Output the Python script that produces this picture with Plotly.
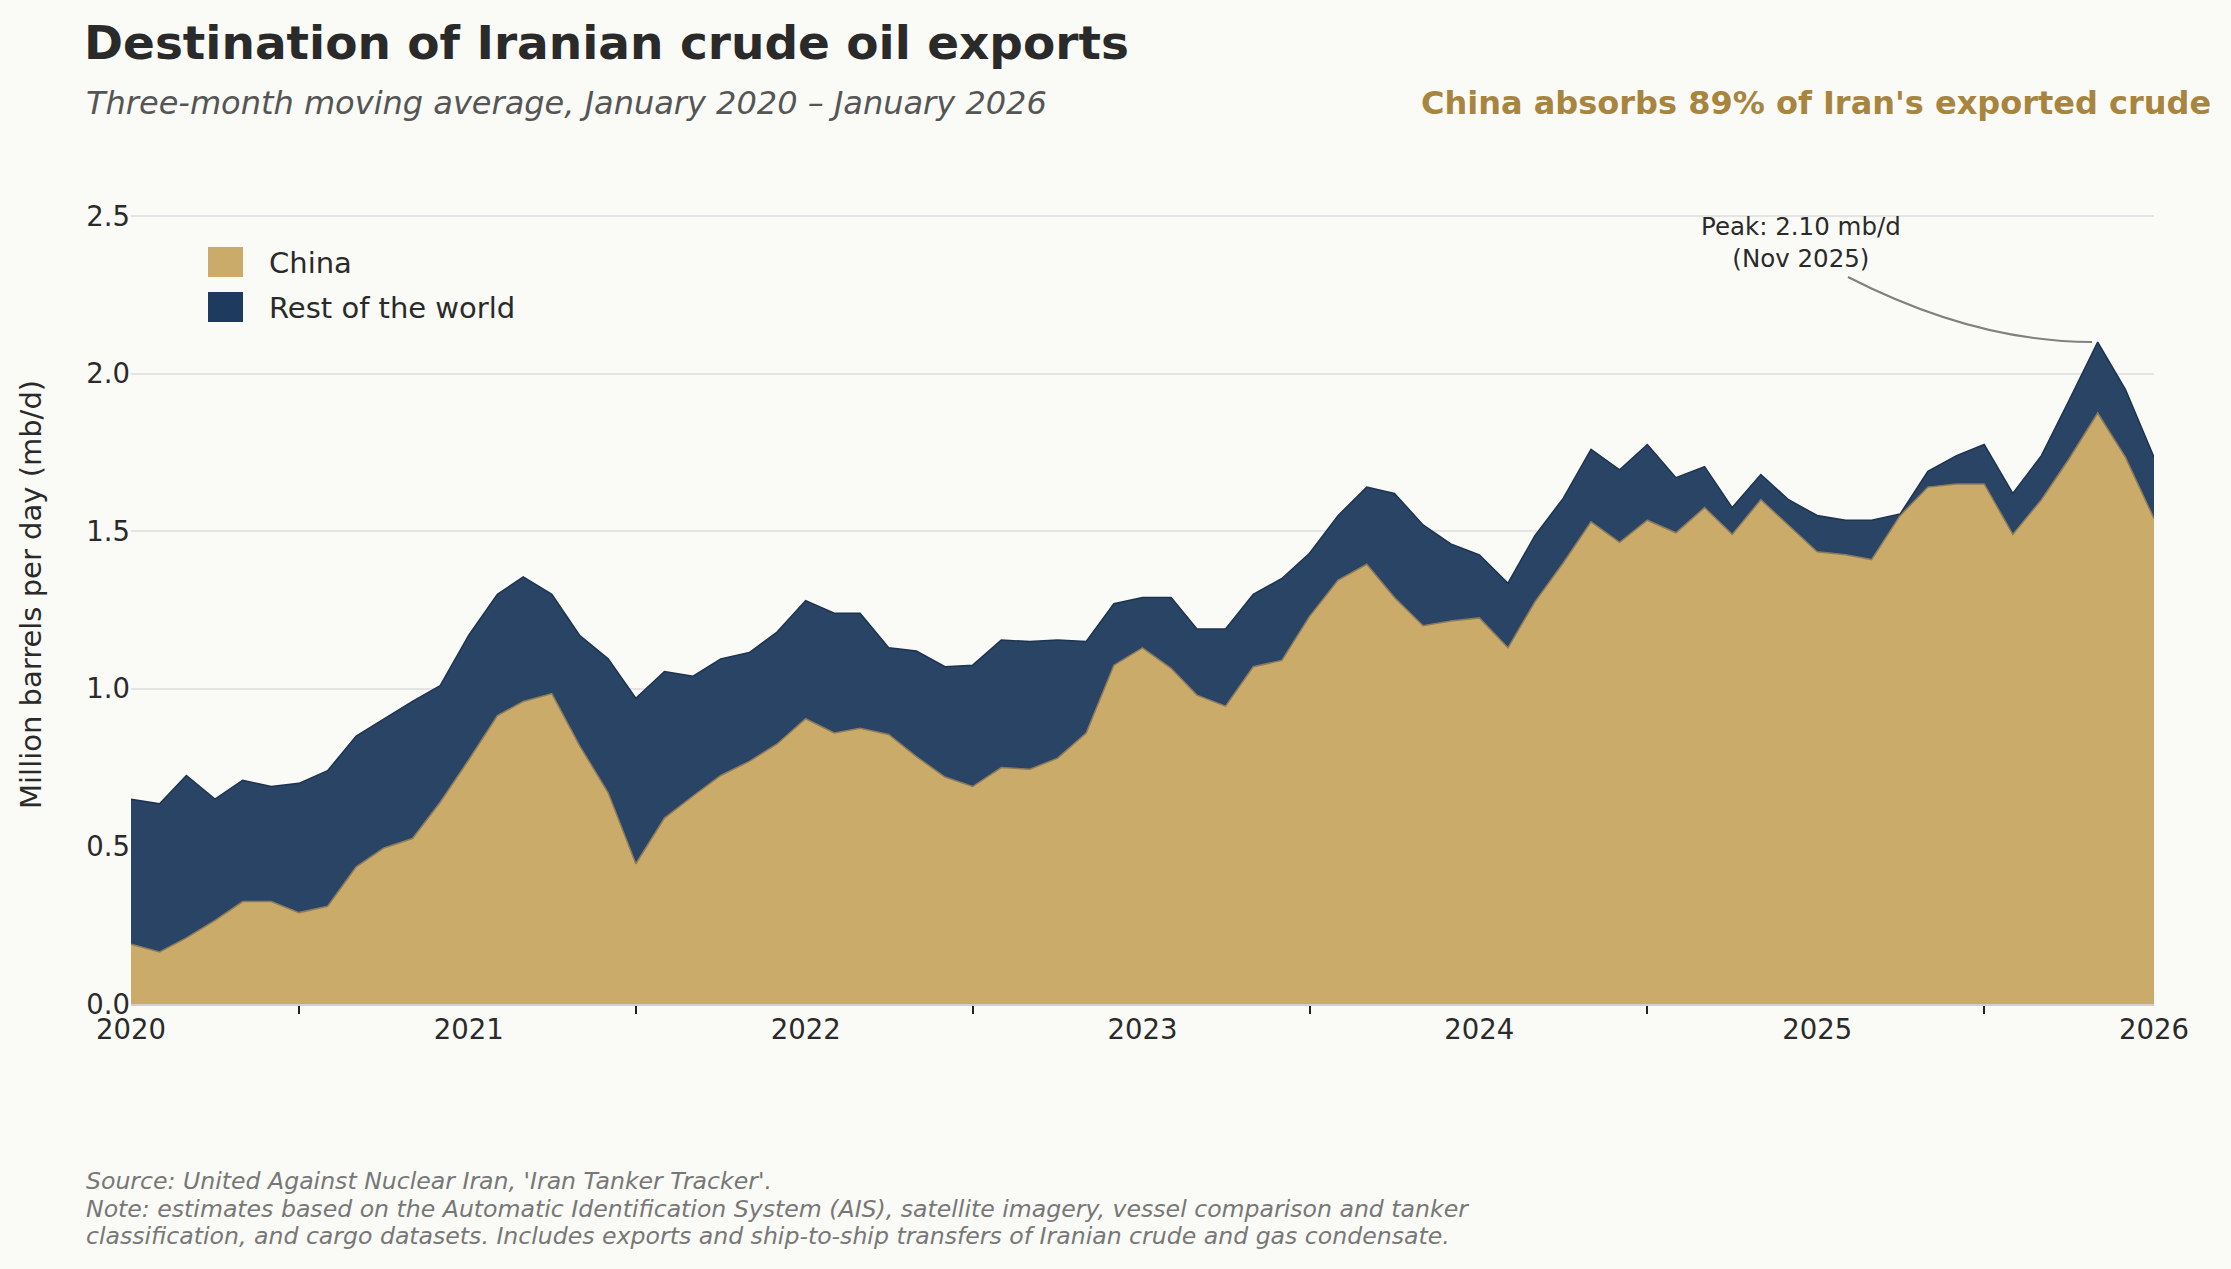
import plotly.graph_objects as go
import pandas as pd

months = pd.date_range("2020-01-01", "2026-01-01", freq="MS")

china = [
    0.19, 0.165, 0.21, 0.265, 0.325, 0.325, 0.29, 0.31, 0.435, 0.495, 0.525, 0.64,
    0.775, 0.915, 0.96, 0.985, 0.82, 0.67, 0.445, 0.59, 0.66, 0.725, 0.77, 0.825,
    0.905, 0.86, 0.875, 0.855, 0.785, 0.72, 0.69, 0.75, 0.745, 0.78, 0.86, 1.075,
    1.13, 1.065, 0.98, 0.945, 1.07, 1.09, 1.23, 1.345, 1.395, 1.29, 1.20, 1.215,
    1.225, 1.13, 1.275, 1.40, 1.53, 1.465, 1.535, 1.495, 1.575, 1.49, 1.60, 1.52,
    1.435, 1.425, 1.41, 1.55, 1.64, 1.65, 1.65, 1.49, 1.60, 1.73, 1.875, 1.735,
    1.54,
]
rest_of_world = [
    0.46, 0.47, 0.515, 0.385, 0.385, 0.365, 0.41, 0.43, 0.415, 0.41, 0.435, 0.37,
    0.395, 0.385, 0.395, 0.315, 0.35, 0.425, 0.525, 0.465, 0.38, 0.37, 0.345, 0.355,
    0.375, 0.38, 0.365, 0.275, 0.335, 0.35, 0.385, 0.405, 0.405, 0.375, 0.29, 0.195,
    0.16, 0.225, 0.21, 0.245, 0.23, 0.26, 0.20, 0.205, 0.245, 0.33, 0.32, 0.245,
    0.20, 0.205, 0.21, 0.205, 0.23, 0.23, 0.24, 0.175, 0.13, 0.085, 0.08, 0.08,
    0.115, 0.11, 0.125, 0.005, 0.05, 0.09, 0.125, 0.13, 0.14, 0.185, 0.225, 0.215,
    0.195,
]

year_ticks = ["2020-01-01", "2021-01-01", "2022-01-01", "2023-01-01",
              "2024-01-01", "2025-01-01", "2026-01-01"]
year_labels = ["2020", "2021", "2022", "2023", "2024", "2025", "2026"]
mid_year_ticks = ["2020-07-01", "2021-07-01", "2022-07-01", "2023-07-01",
                  "2024-07-01", "2025-07-01"]
y_ticks = [0.0, 0.5, 1.0, 1.5, 2.0, 2.5]

GOLD = "#CBAB69"
NAVY = "#2A4466"
BG = "#FAFAF6"
FONT = "DejaVu Sans"
TXT = "#2a2a2a"

# plot area in pixels
L, R, T, B = 131, 2154, 153, 1004
W, H = R - L, B - T


def px(x):
    return (x - L) / W


def py(y):
    return (B - y) / H


fig = go.Figure()

fig.add_trace(go.Scatter(
    x=months, y=china, name="China", stackgroup="one",
    mode="lines", line=dict(color="#8C7B5A", width=1.5),
    fillcolor=GOLD,
))
fig.add_trace(go.Scatter(
    x=months, y=rest_of_world, name="Rest of the world", stackgroup="one",
    mode="lines", line=dict(color="#1E3350", width=1.5),
    fillcolor=NAVY,
))

annotations = [
    dict(text="<b>Destination of Iranian crude oil exports</b>", x=px(82), y=py(43),
         xanchor="left", yanchor="middle", font=dict(size=47, color=TXT)),
    dict(text="<i>Three-month moving average, January 2020 – January 2026</i>",
         x=px(84), y=py(103), xanchor="left", yanchor="middle",
         font=dict(size=32, color="#555555")),
    dict(text="<b>China absorbs 89% of Iran's exported crude</b>", x=px(2213), y=py(103),
         xanchor="right", yanchor="middle", font=dict(size=32, color="#A8853F")),
    dict(text="China", x=px(267), y=py(263), xanchor="left", yanchor="middle",
         font=dict(size=29, color=TXT)),
    dict(text="Rest of the world", x=px(267), y=py(308), xanchor="left", yanchor="middle",
         font=dict(size=29, color=TXT)),
    dict(text="Peak: 2.10 mb/d<br>(Nov 2025)", x=px(1801), y=py(242),
         xanchor="center", yanchor="middle", font=dict(size=24.5, color=TXT)),
    dict(text="Million barrels per day (mb/d)", x=px(31), y=py(595), textangle=-90,
         xanchor="center", yanchor="middle", font=dict(size=29, color=TXT)),
    dict(text="<i>Source: United Against Nuclear Iran, 'Iran Tanker Tracker'.</i>",
         x=px(84), y=py(1181), xanchor="left", yanchor="middle",
         font=dict(size=23.6, color="#777777")),
    dict(text="<i>Note: estimates based on the Automatic Identification System (AIS), "
              "satellite imagery, vessel comparison and tanker</i>",
         x=px(84), y=py(1209), xanchor="left", yanchor="middle",
         font=dict(size=23.6, color="#777777")),
    dict(text="<i>classification, and cargo datasets. Includes exports and ship-to-ship "
              "transfers of Iranian crude and gas condensate.</i>",
         x=px(84), y=py(1236), xanchor="left", yanchor="middle",
         font=dict(size=23.6, color="#777777")),
]
for a in annotations:
    a.update(xref="paper", yref="paper", showarrow=False)

shapes = [
    dict(type="rect", xref="paper", yref="paper", x0=px(208), x1=px(243),
         y0=py(277), y1=py(247), fillcolor=GOLD, line=dict(width=0)),
    dict(type="rect", xref="paper", yref="paper", x0=px(208), x1=px(243),
         y0=py(322), y1=py(292), fillcolor="#1F3A5F", line=dict(width=0)),
    dict(type="path", xref="paper", yref="paper",
         path=f"M {px(1848)},{py(277)} Q {px(1975)},{py(342)} {px(2092)},{py(342)}",
         line=dict(color="#808080", width=2)),
]

fig.update_layout(
    width=2231, height=1269, autosize=False,
    paper_bgcolor=BG, plot_bgcolor=BG,
    font=dict(family=FONT, color=TXT),
    showlegend=False,
    margin=dict(l=L, r=2231 - R, t=T, b=1269 - B),
    annotations=annotations, shapes=shapes,
    xaxis=dict(
        type="date", range=["2020-01-01", "2026-01-01"],
        tickvals=year_ticks, ticktext=year_labels, ticks="",
        tickfont=dict(size=27.5, color=TXT),
        showgrid=False, zeroline=False,
        showline=True, linecolor="#cfcfcf", linewidth=2,
        minor=dict(tickvals=mid_year_ticks, ticks="outside", ticklen=8,
                   tickwidth=1.5, tickcolor="#222222", showgrid=False),
    ),
    yaxis=dict(
        range=[0, 2.7], tickvals=y_ticks, tickformat=".1f",
        tickfont=dict(size=27.5, color=TXT),
        showgrid=True, gridcolor="#e4e4e4", gridwidth=1.5,
        zeroline=False, ticks="", showline=False,
    ),
)

fig.write_html("out.html", config={"displayModeBar": False},
               post_script="document.body.style.margin='0';")
